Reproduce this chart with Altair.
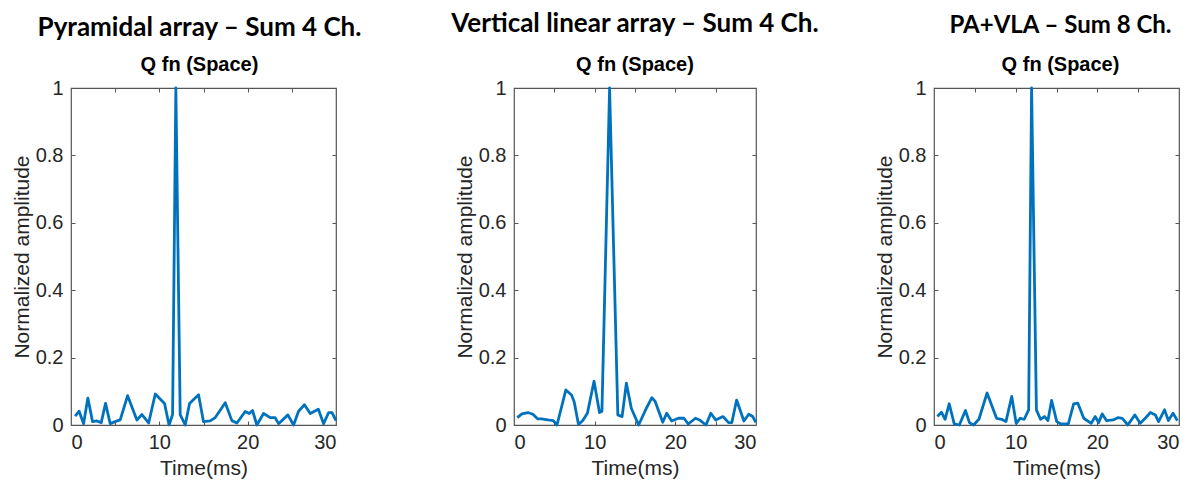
import altair as alt
import pandas as pd

# Time axis (ms) and normalized amplitude for each array configuration
t_pa = [0.47, 0.92, 1.42, 1.91, 2.44, 2.93, 3.42, 3.91, 4.44, 5.0, 5.57, 6.41, 7.46, 8.03,
        8.79, 9.54, 10.59, 11.1, 11.5, 11.87, 12.36, 12.93, 13.42, 14.44, 15.0, 15.76, 16.33,
        17.46, 18.21, 18.78, 19.72, 20.17, 20.55, 21.04, 21.8, 22.55, 23.1, 23.5, 24.55, 25.2,
        25.76, 26.43, 27.08, 28.0, 28.6, 29.17, 29.55, 30.0]
v_pa = [0.026, 0.041, 0.004, 0.080, 0.010, 0.012, 0.007, 0.064, 0.004, 0.010, 0.015, 0.087,
        0.015, 0.031, 0.006, 0.092, 0.064, 0.0, 0.031, 1.0, 0.031, 0.0, 0.064, 0.090, 0.010,
        0.012, 0.022, 0.066, 0.013, 0.006, 0.040, 0.034, 0.043, 0.0, 0.034, 0.022, 0.022,
        0.004, 0.030, 0.0, 0.041, 0.060, 0.034, 0.047, 0.004, 0.037, 0.037, 0.013]

t_vla = [0.41, 0.98, 1.72, 2.34, 2.95, 3.44, 4.18, 4.87, 5.33, 6.43, 7.13, 7.46, 7.99, 8.48,
         9.1, 9.92, 10.6, 10.9, 11.85, 12.87, 13.4, 13.93, 14.55, 15.45, 16.39, 17.09, 17.5,
         18.44, 18.93, 19.55, 20.37, 21.07, 21.6, 22.5, 23.0, 23.8, 24.4, 25.0, 25.9, 26.6,
         27.0, 27.6, 28.5, 29.1, 29.6, 29.97]
v_vla = [0.022, 0.033, 0.037, 0.032, 0.018, 0.018, 0.015, 0.013, 0.0, 0.104, 0.089, 0.069,
         0.002, 0.012, 0.035, 0.130, 0.037, 0.040, 1.0, 0.030, 0.025, 0.124, 0.049, 0.0,
         0.049, 0.081, 0.070, 0.008, 0.035, 0.012, 0.020, 0.020, 0.003, 0.020, 0.015, 0.0,
         0.035, 0.015, 0.025, 0.007, 0.007, 0.074, 0.012, 0.032, 0.025, 0.008]

t_both = [0.41, 0.91, 1.36, 1.86, 2.48, 3.1, 3.85, 4.34, 4.84, 5.5, 6.5, 7.66, 8.28, 8.81,
          9.52, 10.06, 10.55, 11.05, 11.59, 11.95, 12.54, 13.04, 13.54, 13.95, 14.4, 15.03,
          15.53, 16.44, 17.1, 17.6, 18.34, 19.25, 19.75, 20.16, 20.6, 21.12, 21.95, 22.56,
          23.06, 23.73, 24.6, 25.25, 25.87, 26.5, 27.1, 27.5, 28.23, 28.7, 29.27, 29.8]
v_both = [0.025, 0.038, 0.017, 0.063, 0.003, 0.0, 0.043, 0.007, 0.0, 0.017, 0.095, 0.020,
          0.017, 0.010, 0.085, 0.005, 0.020, 0.017, 0.045, 1.0, 0.045, 0.017, 0.025, 0.013,
          0.073, 0.010, 0.003, 0.003, 0.063, 0.065, 0.020, 0.005, 0.025, 0.007, 0.033, 0.013,
          0.015, 0.022, 0.020, 0.0, 0.030, 0.005, 0.020, 0.037, 0.030, 0.010, 0.045, 0.013,
          0.035, 0.013]

headers = ["Pyramidal array – Sum 4 Ch.", "Vertical linear array – Sum 4 Ch.", "PA+VLA – Sum 8 Ch."]
subtitle = "Q fn (Space)"
x_labels = [0, 10, 20, 30]
x_minor = [5, 10, 15, 20, 25]
y_labels = [0, 0.2, 0.4, 0.6, 0.8, 1]
y_minor = [0.2, 0.4, 0.6, 0.8]

LINE = "#0072BD"
INK = "#262626"
BOX = "#555555"
SANS = "Liberation Sans"

xs = alt.Scale(domain=[0, 30], nice=False, zero=False)
ys = alt.Scale(domain=[0, 1], nice=False)


def inner_ticks(orient, values):
    return alt.Axis(orient=orient, values=values, tickSize=4, offset=-4, labels=False,
                    domain=False, grid=False, title=None, tickColor=BOX, tickWidth=1)


def panel(t, v, header, width, height, sub_pad, head_size, head_dx):
    df = pd.DataFrame({"t": t, "v": v})
    base = alt.Chart(df)
    line = base.mark_line(color=LINE, strokeWidth=2.8, strokeJoin="round").encode(
        x=alt.X("t:Q", scale=xs, axis=alt.Axis(
            values=x_labels, title="Time(ms)", ticks=False, domain=False, grid=False,
            labelFontSize=20, labelColor=INK, labelFont=SANS, labelPadding=7,
            titleFontSize=21, titleFont=SANS, titleFontWeight="normal", titleColor=INK,
            titlePadding=5)),
        y=alt.Y("v:Q", scale=ys, axis=alt.Axis(
            values=y_labels, format="~g", title="Normalized amplitude", ticks=False,
            domain=False, grid=False, labelFontSize=20, labelColor=INK, labelFont=SANS,
            labelPadding=8, titleFontSize=21, titleFont=SANS, titleFontWeight="normal",
            titleColor=INK, titlePadding=3)),
    )
    layers = [line]
    for xo, yo in [("top", None), ("bottom", None), (None, "left"), (None, "right")]:
        if xo:
            enc = dict(x=alt.X("t:Q", scale=xs, axis=inner_ticks(xo, x_minor)),
                       y=alt.Y("v:Q", scale=ys, axis=None))
        else:
            enc = dict(x=alt.X("t:Q", scale=xs, axis=None),
                       y=alt.Y("v:Q", scale=ys, axis=inner_ticks(yo, y_minor)))
        layers.append(base.mark_line(opacity=0).encode(**enc))
    return alt.layer(*layers).resolve_axis(x="independent", y="independent").properties(
        width=width, height=height,
        title=alt.Title(text=header, subtitle=subtitle, anchor="middle", dx=head_dx,
                        font="Lato", fontSize=head_size, fontWeight="bold", color="#000000",
                        subtitleFont=SANS, subtitleFontSize=20, subtitleFontWeight="bold",
                        subtitleColor="#000000", subtitlePadding=sub_pad, offset=3),
    )


p1 = panel(t_pa, v_pa, headers[0], 265, 337, 14, 26, -4)
p2 = panel(t_vla, v_vla, headers[1], 242, 337, 18, 26, 0)
p3 = panel(t_both, v_both, headers[2], 245, 337, 17, 24, 4)

chart = alt.hconcat(p1, p2, p3, spacing=178, bounds="flush").properties(
    padding={"left": 10, "top": 10, "right": 5, "bottom": 0},
    background="white",
).configure_view(stroke=BOX, strokeWidth=1.2)

chart.save("out.html", embed_options={"renderer": "svg", "actions": False})
